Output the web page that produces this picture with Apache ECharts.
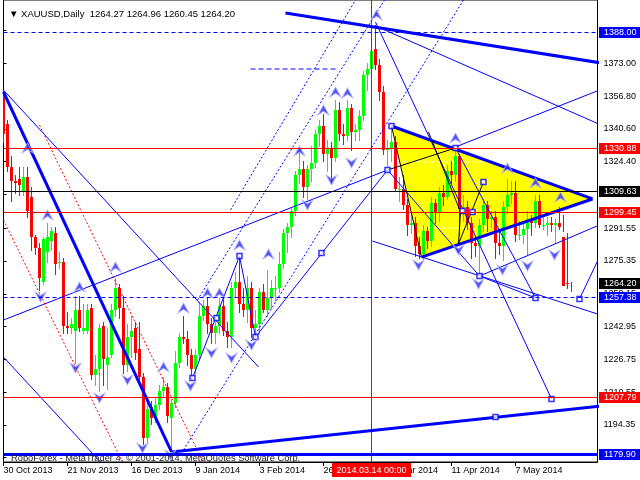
<!DOCTYPE html>
<html><head><meta charset="utf-8">
<script src="https://cdn.jsdelivr.net/npm/echarts@6/dist/echarts.min.js"></script>
<style>html,body{margin:0;padding:0;background:#fff}#c{width:640px;height:480px}</style>
</head><body><div id="c"></div>
<script>
// ---------- data ----------
const dates = ['2013.10.30','2013.10.31','2013.11.01','2013.11.04','2013.11.05','2013.11.06','2013.11.07','2013.11.08','2013.11.11','2013.11.12','2013.11.13','2013.11.14','2013.11.15','2013.11.18','2013.11.19','2013.11.20','2013.11.21','2013.11.22','2013.11.25','2013.11.26','2013.11.27','2013.11.29','2013.12.02','2013.12.03','2013.12.04','2013.12.05','2013.12.06','2013.12.09','2013.12.10','2013.12.11','2013.12.12','2013.12.13','2013.12.16','2013.12.17','2013.12.18','2013.12.19','2013.12.20','2013.12.23','2013.12.24','2013.12.26','2013.12.27','2013.12.30','2013.12.31','2014.01.02','2014.01.03','2014.01.06','2014.01.07','2014.01.08','2014.01.09','2014.01.10','2014.01.13','2014.01.14','2014.01.15','2014.01.16','2014.01.17','2014.01.21','2014.01.22','2014.01.23','2014.01.24','2014.01.27','2014.01.28','2014.01.29','2014.01.30','2014.01.31','2014.02.03','2014.02.04','2014.02.05','2014.02.06','2014.02.07','2014.02.10','2014.02.11','2014.02.12','2014.02.13','2014.02.14','2014.02.18','2014.02.19','2014.02.20','2014.02.21','2014.02.24','2014.02.25','2014.02.26','2014.02.27','2014.02.28','2014.03.03','2014.03.04','2014.03.05','2014.03.06','2014.03.07','2014.03.10','2014.03.11','2014.03.12','2014.03.13','2014.03.14','2014.03.17','2014.03.18','2014.03.19','2014.03.20','2014.03.21','2014.03.24','2014.03.25','2014.03.26','2014.03.27','2014.03.28','2014.03.31','2014.04.01','2014.04.02','2014.04.03','2014.04.04','2014.04.07','2014.04.08','2014.04.09','2014.04.10','2014.04.11','2014.04.14','2014.04.15','2014.04.16','2014.04.17','2014.04.22','2014.04.23','2014.04.24','2014.04.25','2014.04.28','2014.04.29','2014.04.30','2014.05.01','2014.05.02','2014.05.05','2014.05.06','2014.05.07','2014.05.08','2014.05.09','2014.05.12','2014.05.13','2014.05.14','2014.05.15','2014.05.16','2014.05.19','2014.05.20','2014.05.21','2014.05.22','2014.05.23','2014.05.27','2014.05.28'];

const openP = [1357,1343,1322,1315,1316,1310,1317,1307,1287,1282,1265,1280,1285,1289,1275,1275,1243,1242,1241,1251,1241,1241,1252,1219,1222,1243,1224,1229,1251,1262,1252,1224,1238,1242,1232,1218,1188,1203,1198,1204,1211,1213,1198,1205,1225,1238,1237,1229,1222,1229,1248,1253,1244,1240,1243,1253,1241,1238,1262,1265,1254,1251,1262,1242,1244,1260,1251,1257,1262,1262,1274,1289,1292,1300,1318,1321,1312,1321,1324,1338,1342,1328,1331,1326,1350,1338,1337,1351,1339,1340,1347,1367,1370,1380,1372,1359,1330,1331,1334,1311,1311,1303,1293,1294,1283,1279,1290,1285,1304,1299,1309,1307,1320,1318,1327,1301,1302,1294,1284,1283,1293,1303,1296,1297,1284,1283,1302,1308,1309,1288,1288,1291,1295,1294,1305,1293,1293,1294,1293,1294,1287,1264.27];
const highP = [1360,1345,1327,1318,1322,1322,1322,1312,1288,1284,1287,1294,1292,1292,1280,1277,1250,1247,1258,1258,1254,1254,1254,1229,1244,1245,1242,1254,1267,1264,1258,1244,1248,1245,1245,1220,1207,1206,1208,1214,1218,1215,1207,1231,1240,1248,1241,1232,1232,1255,1256,1257,1247,1245,1257,1259,1245,1265,1270,1278,1262,1268,1265,1251,1262,1264,1271,1266,1268,1280,1291,1294,1302,1320,1332,1325,1323,1332,1340,1345,1348,1335,1334,1355,1354,1343,1355,1353,1343,1350,1369,1373,1385,1392,1375,1362,1335,1342,1337,1317,1318,1306,1299,1297,1287,1293,1292,1307,1306,1312,1313,1323,1325,1331,1328,1308,1305,1297,1287,1296,1306,1305,1300,1300,1290,1305,1316,1315,1315,1295,1294,1300,1298,1308,1308,1297,1297,1297,1296,1302,1298,1289,1264.96];
const lowP = [1334,1320,1305,1309,1308,1308,1297,1281,1279,1261,1264,1275,1281,1269,1272,1240,1240,1240,1225,1241,1240,1240,1217,1214,1211,1214,1212,1228,1248,1247,1220,1221,1228,1227,1216,1185,1186,1195,1196,1202,1208,1196,1182,1203,1223,1235,1224,1217,1220,1227,1246,1240,1235,1235,1240,1239,1233,1233,1258,1250,1248,1245,1238,1238,1240,1250,1248,1252,1256,1260,1272,1280,1287,1298,1314,1307,1306,1315,1322,1332,1325,1320,1314,1325,1335,1333,1335,1330,1335,1335,1345,1360,1366,1370,1355,1328,1320,1325,1310,1305,1301,1288,1289,1278,1277,1276,1282,1283,1294,1295,1303,1306,1314,1315,1288,1295,1291,1277,1278,1268,1290,1290,1292,1277,1279,1276,1299,1304,1285,1286,1284,1279,1288,1292,1292,1291,1288,1290,1284,1291,1290,1262,1260.45];
const closeP = [1338,1322,1315,1314,1313,1317,1300,1287,1282,1267,1286,1287,1290,1274,1275,1243,1242,1244,1251,1242,1242,1251,1219,1222,1242,1227,1228,1251,1262,1252,1224,1238,1241,1230,1218,1188,1202,1198,1204,1211,1213,1199,1205,1225,1238,1237,1229,1222,1229,1248,1253,1244,1240,1243,1253,1241,1238,1262,1265,1254,1251,1262,1242,1244,1260,1251,1257,1262,1262,1274,1289,1292,1300,1318,1321,1312,1321,1324,1338,1342,1328,1331,1326,1350,1338,1337,1351,1339,1340,1347,1367,1370,1379,1372,1359,1330,1331,1334,1311,1311,1303,1293,1294,1283,1279,1290,1285,1304,1299,1309,1307,1320,1318,1327,1301,1302,1294,1284,1283,1293,1303,1296,1297,1284,1283,1302,1308,1309,1288,1288,1291,1295,1294,1305,1293,1293,1294,1293,1294,1292,1263,1264.20];

const xTickIdx = [0,16,32,48,64,80,96,112,128];
const xTickLabels = ['30 Oct 2013','21 Nov 2013','16 Dec 2013','9 Jan 2014','3 Feb 2014','26 Feb 2014','20 Mar 2014','11 Apr 2014','7 May 2014'];
const yTickValues = [1389.20,1373.00,1356.80,1340.60,1324.40,1308.20,1291.55,1275.35,1259.15,1242.95,1226.75,1210.55,1194.35,1178.15];

// horizontal price levels (value + kind of line) and the marked date
const levelValues = [1388.00, 1330.88, 1309.63, 1299.45, 1264.20, 1257.38, 1207.79, 1179.90];
const levelKinds  = ['blueDash','red','black','red','bid','blueDash','red','blueThick'];
const markDateIdx = 92; const markDateLabel = '2014.03.14 00:00';
const titleText = 'XAUUSD,Daily  1264.27 1264.96 1260.45 1264.20';
const footerText = 'RoboForex - MetaTrader 4, \u00A9 2001-2014, MetaQuotes Software Corp.';

// drawn objects, in [bar index, price]
const thickLines = [
  [[0,1358.85],[42,1181.0]],
  [[42,1181.0],[150,1203.8]],
  [[70.5,1397.9],[150,1373.0]],
  [[97,1342.05],[147.25,1306.0]],
  [[104.5,1277.3],[147.25,1306.0]]
];
const thinLines = [
  [[0,1359.8],[63.75,1223.0]],
  [[0,1227.9],[26,1172.3]],
  [[0,1246.2],[96,1320.3]],
  [[93,1393.4],[137,1207.2]],
  [[93,1391.5],[150,1342.0]],
  [[113,1331.7],[150,1360.6]],
  [[92.25,1285.2],[150,1248.2]],
  [[119,1267.9],[150,1294.0]],
  [[47.25,1217.5],[59,1277.8]],
  [[59,1277.8],[63,1237.8]],
  [[63,1237.8],[96,1320.3]],
  [[119,1267.9],[133,1257.1]],
  [[144,1256.6],[150,1281.5]],
  [[113,1331.2],[133,1257.1]],
  [[96,1320.3],[119,1267.9]]
];
const blackLines = [
  [[97,1342.05],[104.5,1277.3]],
  [[96,1320.3],[113,1331.2]],
  [[106.25,1339.1],[114.25,1299.6]],
  [[114.25,1299.6],[113.75,1283.8]],
  [[113.75,1283.8],[120,1314.4]]
];
const whiteDashed = [
  [[98,1324.3],[127,1324.3]],
  [[99,1291.7],[122,1291.7]]
];
const redDotted = [
  [[9,1342.5],[49.9,1176.0]],
  [[0,1295.6],[29.75,1176.0]]
];
const blueDotted = [
  [[56.75,1300.6],[88,1404.3]],
  [[48.5,1256.1],[95.25,1404.3]],
  [[45,1182.0],[115,1404.3]]
];
const blueDashed = [
  [[61.75,1370.2],[83.75,1370.2]]
];
const triangle = [[97,1342.05],[147.25,1306.0],[104.5,1277.3]];
const squares = [[47.25,1217.5],[53.25,1247.2],[59,1277.8],[63,1237.8],[79.5,1279.3],[96,1320.3],[97,1342.05],[113,1331.2],[120,1314.4],[114.75,1300.05],[117.25,1299.6],[119,1267.9],[133,1257.1],[144,1256.6],[137,1207.2],[123,1198.3]];
const upArrows = [[6,1331.2],[11,1298.1],[19,1262.5],[28,1272.4],[40,1223.0],[45,1252.1],[51,1259.5],[54,1259.5],[59,1283.3],[66.25,1278.8],[74,1329.7],[80,1350.0],[83,1358.85],[86,1358.4],[93.25,1396.9],[113,1336.1],[126,1321.3],[133,1313.9],[139.25,1307.0]];
const downArrows = [[9.25,1257.6],[18,1222.5],[24,1207.7],[31,1216.6],[34.75,1183.0],[41.75,1179.5],[46.75,1213.6],[52,1229.9],[57,1227.4],[62,1233.8],[76,1303.0],[82,1315.4],[87,1323.8],[103.75,1273.4],[113.75,1280.8],[118.75,1264.0],[124.75,1270.9],[131,1272.9],[137.75,1278.3]];

// ---------- chart ----------
const FONT = 'Liberation Sans, Arial, sans-serif';
const candles = dates.map((d,i)=>[i, openP[i], highP[i], lowP[i], closeP[i]]);
const KIND_STYLE = {
  blueDash:{stroke:'#0000ff', lw:1, dash:[4,3], tag:'#0000ff'},
  red:{stroke:'#ff0000', lw:1, dash:null, tag:'#ff0000'},
  black:{stroke:'#000000', lw:1, dash:null, tag:'#000000'},
  blueThick:{stroke:'#0000ff', lw:3, dash:null, tag:'#0000ff'},
  bid:{stroke:null, lw:0, dash:null, tag:'#000000'}
};

function seg(list, style, z){
  return list.map(pts=>({type:'line', data:pts, showSymbol:false, symbol:'none', silent:true, animation:false, z:z||3, lineStyle:style, clip:true}));
}

const upPath = 'path://M6,0 L12,11 L6,7 L0,11 Z';
const downPath = 'path://M6,11 L12,0 L6,4 L0,0 Z';

function renderCandle(params, api){
  const i = api.value(0), o = api.value(1), h = api.value(2), l = api.value(3), c = api.value(4);
  const pO = api.coord([i,o]), pC = api.coord([i,c]), pH = api.coord([i,h]), pL = api.coord([i,l]);
  const x = Math.floor(pO[0]) + 0.5;
  const col = c >= o ? '#00ff00' : '#ff0000';
  const top = Math.round(Math.min(pO[1], pC[1]));
  const bot = Math.round(Math.max(pO[1], pC[1]));
  return {type:'group', children:[
    {type:'line', shape:{x1:x, y1:Math.round(pH[1]), x2:x, y2:Math.round(pL[1])+1}, style:{stroke:col, lineWidth:1}},
    {type:'rect', shape:{x:x-1.5, y:top, width:3, height:Math.max(1, bot-top)}, style:{fill:col}}
  ]};
}

function renderLevel(params, api){
  const k = api.value(0), v = api.value(1);
  const cs = params.coordSys;
  const st = KIND_STYLE[levelKinds[k]];
  const y = Math.floor(api.coord([0, v])[1]) + 0.5;
  const right = cs.x + cs.width;
  const kids = [];
  if (st.stroke) kids.push({type:'line', z2:1, shape:{x1:cs.x, y1:y, x2:right, y2:y}, style:{stroke:st.stroke, lineWidth:st.lw, lineDash:st.dash}});
  kids.push({type:'rect', z2:5, shape:{x:Math.ceil(right)+1, y:Math.floor(y)-5, width:640-Math.ceil(right)-1, height:11}, style:{fill:st.tag}});
  kids.push({type:'text', z2:6, style:{text:v.toFixed(2), x:Math.ceil(right)+6, y:Math.floor(y)+0.5, fill:'#ffffff', font:'9px '+FONT, align:'left', verticalAlign:'middle'}});
  return {type:'group', children:kids};
}

function renderDateMark(params, api){
  const cs = params.coordSys;
  const x = Math.floor(api.coord([api.value(0), 1300])[0]) + 0.5;
  const bottom = cs.y + cs.height;
  return {type:'group', children:[
    {type:'line', shape:{x1:x, y1:cs.y, x2:x, y2:bottom}, style:{stroke:'#ff0000', lineWidth:1}},
    {type:'rect', shape:{x:Math.floor(x)-39, y:Math.ceil(bottom)+1, width:79, height:14}, style:{fill:'#ff0000'}},
    {type:'text', style:{text:markDateLabel, x:x, y:Math.ceil(bottom)+8.5, fill:'#ffffff', font:'9px '+FONT, align:'center', verticalAlign:'middle'}}
  ]};
}

const series = [
  {type:'custom', silent:true, z:1, data:[triangle[0]], animation:false,
   renderItem:(params, api)=>({type:'polygon', shape:{points: triangle.map(p=>api.coord(p))}, style:{fill:'#ffff00'}})},
  ...seg(whiteDashed, {color:'#ffffff', width:1, type:[4,3]}, 1.5),
  {type:'custom', name:'XAUUSD', data:candles, encode:{x:0, y:[1,2,3,4]}, z:2, silent:true, animation:false, clip:true,
   renderItem:renderCandle},
  {type:'custom', data:[[markDateIdx, 1300]], z:2, silent:true, animation:false, clip:false, renderItem:renderDateMark},
  ...seg(thickLines, {color:'#0000ff', width:3}),
  ...seg(thinLines, {color:'#0000ff', width:1}),
  ...seg(blackLines, {color:'#000000', width:1}),
  ...seg(redDotted, {color:'#ff0000', width:1, type:[2,2]}),
  ...seg(blueDotted, {color:'#0000ff', width:1, type:[2,2]}),
  ...seg(blueDashed, {color:'#0000ff', width:1, type:[5,3]}),
  {type:'scatter', data:squares, symbol:'rect', symbolSize:5, z:4, silent:true, animation:false,
   itemStyle:{color:'#ffffff', borderColor:'#0000ff', borderWidth:1.5}},
  {type:'scatter', data:upArrows, symbol:upPath, symbolSize:[11,10], z:4, silent:true, animation:false,
   itemStyle:{color:'#2a2af0', borderColor:'#b4b4ff', borderWidth:1}},
  {type:'scatter', data:downArrows, symbol:downPath, symbolSize:[11,10], z:4, silent:true, animation:false,
   itemStyle:{color:'#2a2af0', borderColor:'#b4b4ff', borderWidth:1}},
  {type:'custom', data:levelValues.map((v,k)=>[k, v]), encode:{x:0, y:1}, z:6, silent:true, animation:false, clip:false, renderItem:renderLevel}
];

const chart = echarts.init(document.getElementById('c'), null, {renderer:'canvas'});
chart.setOption({
  animation:false,
  backgroundColor:'#ffffff',
  title:[
    {text:'\u25BC '+titleText, left:4, top:4, textStyle:{fontSize:9.5, fontWeight:'normal', color:'#000', fontFamily:FONT}},
    {text:footerText, left:6, top:449, z:10, textStyle:{fontSize:9.3, fontWeight:'normal', color:'#202020', fontFamily:FONT}}
  ],
  grid:{left:3.5, top:0, right:42.5, bottom:18, show:true, borderColor:'#000', borderWidth:1, backgroundColor:'transparent'},
  xAxis:{type:'value', min:0, max:148.5, splitLine:{show:false},
    axisLine:{show:true, lineStyle:{color:'#000', width:1}},
    axisTick:{show:true, length:4, customValues:xTickIdx, lineStyle:{color:'#000'}},
    axisLabel:{customValues:xTickIdx, formatter:(v)=>xTickLabels[xTickIdx.indexOf(Math.round(v))]||'', align:'left', margin:4, fontSize:9, color:'#000', fontFamily:FONT}},
  yAxis:{type:'value', position:'right', min:1176.04, max:1404.30, scale:true, splitLine:{show:false},
    axisLine:{show:true, lineStyle:{color:'#000', width:1}},
    axisTick:{show:true, length:3, customValues:yTickValues, lineStyle:{color:'#000'}},
    axisLabel:{customValues:yTickValues, formatter:(v)=>v.toFixed(2), margin:6, fontSize:9, color:'#000', fontFamily:FONT}},
  series:series
});
</script></body></html>
